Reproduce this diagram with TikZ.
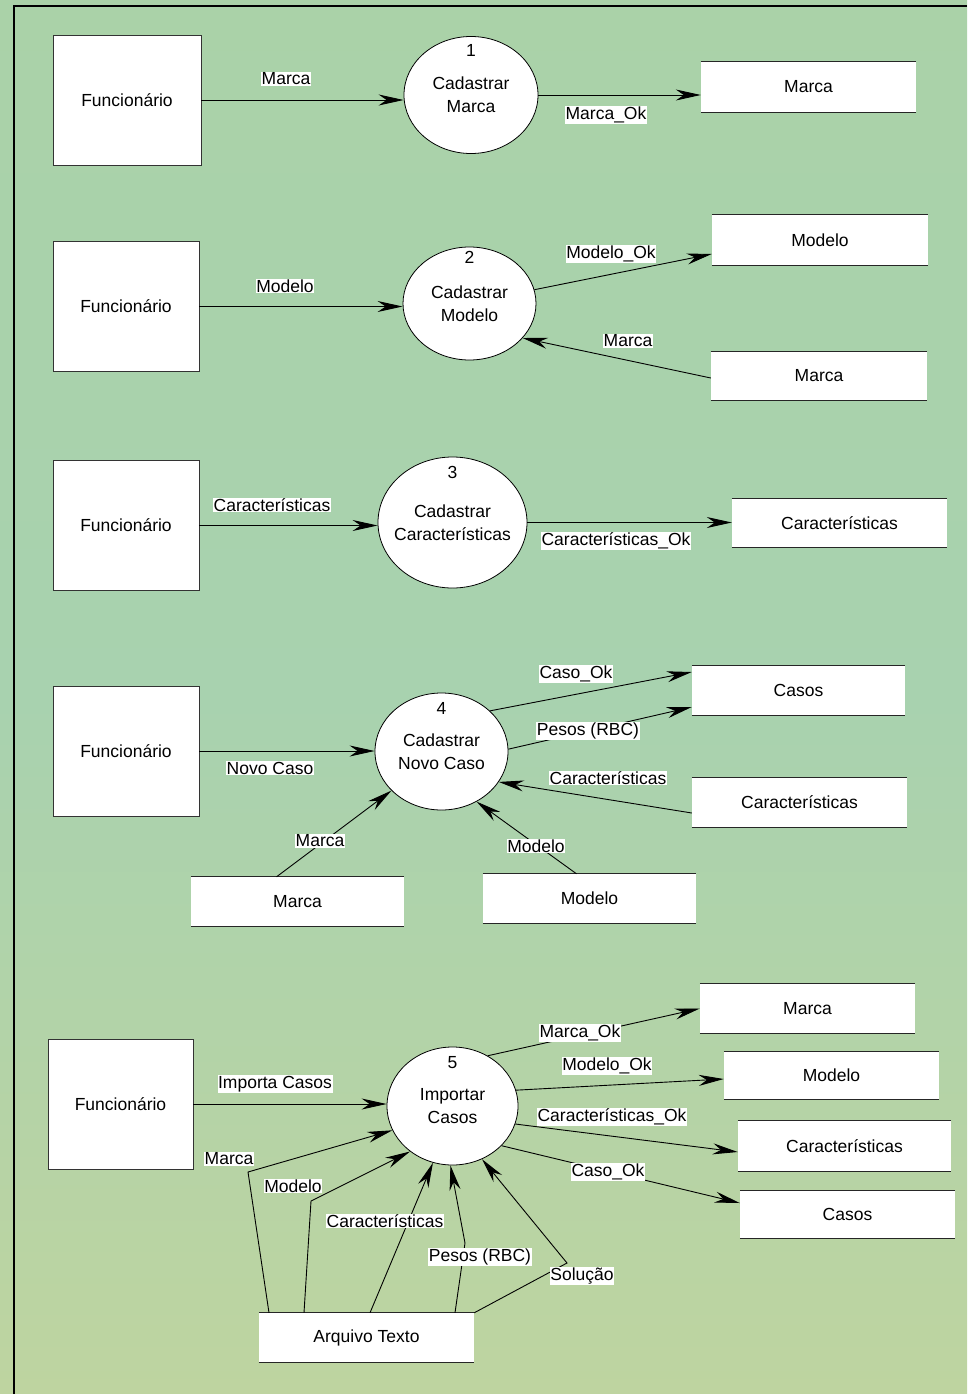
\documentclass[tikz,border=0pt]{standalone}
\usepackage{fontspec}
\setmainfont{Liberation Sans}
\usetikzlibrary{shapes.geometric,arrows.meta,calc}
\definecolor{bgtop}{RGB}{170,210,168}
\definecolor{bgmid}{RGB}{168,210,175}
\definecolor{bgbot}{RGB}{190,212,160}
\newcommand\dsline[1]{\draw[storeline] (#1.north west) -- (#1.north east) (#1.south west) -- (#1.south east);}
\begin{document}
\begin{tikzpicture}[x=1pt,y=-1pt,
 every node/.style={font=\fontsize{17.5}{23}\selectfont},
 ext/.style={draw=black!80, line width=0.8pt, fill=white, minimum width=146pt, minimum height=130pt, inner sep=0},
 proc/.style={ellipse, draw=black, line width=0.8pt, fill=white, inner sep=0},
 ptext/.style={align=center, inner sep=0},
 store/.style={fill=white, inner sep=0, minimum height=49pt},
 storeline/.style={line width=1pt, black!85},
 flow/.style={draw=black, line width=0.9pt, -{Stealth[length=25pt,width=11pt,inset=8pt]}},
 lab/.style={fill=white, inner sep=0.6pt},
]
\useasboundingbox (0,0) rectangle (967,1394);
\shade[top color=bgtop, bottom color=bgbot, middle color=bgmid] (0,0) rectangle (967,1394);
\draw[line width=2pt] (14,1394) -- (14,6) -- (967,6);

% ---------- Section 1 ----------
\node[ext, minimum width=148pt] (f1) at (127,100) {Funcionário};
\node[proc, minimum width=134pt, minimum height=117pt] (p1) at (471,95) {};
\node[ptext] at (p1) {Cadastrar\\Marca};
\node[ptext] at ($(p1.north)+(0,14)$) {1};
\node[store, minimum width=215pt, minimum height=50pt] (s1) at (808.5,87) {Marca};
\dsline{s1}
\draw[flow] (f1.east) -- (f1.east -| p1.west);
\draw[flow] (p1.east) -- (p1.east -| s1.west);
\node[lab] at (286,79) {Marca};
\node[lab] at (606,115) {Marca\_Ok};

% ---------- Section 2 ----------
\node[ext] (f2) at (126,306.5) {Funcionário};
\node[proc, minimum width=133pt, minimum height=113pt] (p2) at (469.5,303.5) {};
\node[ptext] at (p2) {Cadastrar\\Modelo};
\node[ptext] at ($(p2.north)+(0,11)$) {2};
\node[store, minimum width=216pt, minimum height=50pt] (s2) at (820,240) {Modelo};
\dsline{s2}
\node[store, minimum width=216pt, minimum height=48pt] (s3) at (819,376) {Marca};
\dsline{s3}
\draw[flow] (f2.east) -- (f2.east -| p2.west);
\draw[flow] (p2.12) -- ($(s2.west)+(0,14)$);
\draw[flow] ($(s3.west)+(0,2)$) -- (p2.-33);
\node[lab] at (285,286) {Modelo};
\node[lab] at (611,254) {Modelo\_Ok};
\node[lab] at (628,341) {Marca};

% ---------- Section 3 ----------
\node[ext] (f3) at (126,525.5) {Funcionário};
\node[proc, minimum width=149pt, minimum height=131pt] (p3) at (452.5,522.5) {};
\node[ptext] at (p3) {Cadastrar\\Características};
\node[ptext] at ($(p3.north)+(0,16)$) {3};
\node[store, minimum width=215pt, minimum height=48pt] (s4) at (839.5,523) {Características};
\dsline{s4}
\draw[flow] (f3.east) -- (f3.east -| p3.west);
\draw[flow] (p3.east) -- (p3.east -| s4.west);
\node[lab] at (272,505) {Características};
\node[lab] at (616,541) {Características\_Ok};

% ---------- Section 4 ----------
\node[ext] (f4) at (126,751) {Funcionário};
\node[proc, minimum width=133pt, minimum height=117pt] (p4) at (441.5,751.5) {};
\node[ptext] at (p4) {Cadastrar\\Novo Caso};
\node[ptext] at ($(p4.north)+(0,16)$) {4};
\node[store, minimum width=213pt] (s5) at (798.5,690.5) {Casos};
\dsline{s5}
\node[store, minimum width=215pt] (s6) at (799.5,802.5) {Características};
\dsline{s6}
\node[store, minimum width=213pt] (s7) at (297.5,901.5) {Marca};
\dsline{s7}
\node[store, minimum width=213pt] (s8) at (589.5,898.5) {Modelo};
\dsline{s8}
\draw[flow] (f4.east) -- (f4.east -| p4.west);
\draw[flow] (p4.40) -- ($(s5.west)+(0,-18.5)$);
\draw[flow] (p4.2) -- ($(s5.west)+(0,16.5)$);
\draw[flow] ($(s6.west)+(0,10.5)$) -- (p4.-28);
\draw[flow] ($(s7.north)+(-21,0)$) -- (p4.218);
\draw[flow] ($(s8.north)+(-13,0)$) -- (p4.-55);
\node[lab] at (270,768) {Novo Caso};
\node[lab] at (576,674) {Caso\_Ok};
\node[lab] at (588,731) {Pesos (RBC)};
\node[lab] at (608,778) {Características};
\node[lab] at (320,841) {Marca};
\node[lab] at (536,846) {Modelo};

% ---------- Section 5 ----------
\node[ext, minimum width=145pt] (f5) at (120.5,1104) {Funcionário};
\node[proc, minimum width=131pt, minimum height=118pt] (p5) at (452.5,1106) {};
\node[ptext] at (p5) {Importar\\Casos};
\node[ptext] at ($(p5.north)+(0,16)$) {5};
\node[store, minimum width=215pt] (t1) at (807.5,1008.5) {Marca};
\dsline{t1}
\node[store, minimum width=215pt, minimum height=47pt] (t2) at (831.5,1075.5) {Modelo};
\dsline{t2}
\node[store, minimum width=213pt, minimum height=50pt] (t3) at (844.5,1146) {Características};
\dsline{t3}
\node[store, minimum width=215pt, minimum height=47pt] (t4) at (847.5,1214.5) {Casos};
\dsline{t4}
\node[store, minimum width=215pt] (at) at (366.5,1337.5) {Arquivo Texto};
\dsline{at}
\draw[flow] (f5.east) -- (f5.east -| p5.west);
\draw[flow] (p5.55) -- (t1.west);
\draw[flow] (p5.14) -- ($(t2.west)+(0,3.5)$);
\draw[flow] (p5.-16) -- ($(t3.west)+(0,6)$);
\draw[flow] (p5.-39) -- ($(t4.west)+(0,-11.5)$);
\coordinate (bm) at (248,1172);
\coordinate (bo) at (311,1201);
\coordinate (bp) at (465,1243);
\coordinate (bs) at (567,1263);
\draw[flow] ($(at.north)+(-97.5,0)$) -- (bm) -- (p5.202);
\draw[flow] ($(at.north)+(-62.5,0)$) -- (bo) -- (p5.227);
\draw[flow] ($(at.north)+(3.5,0)$) -- (p5.251);
\draw[flow] ($(at.north)+(88.5,0)$) -- (bp) -- (p5.268);
\draw[flow] (at.north east) -- (bs) -- (p5.299);
\node[lab] at (275,1084) {Importa Casos};
\node[lab] at (580,1033) {Marca\_Ok};
\node[lab] at (607,1066) {Modelo\_Ok};
\node[lab] at (612,1117) {Características\_Ok};
\node[lab] at (608,1172) {Caso\_Ok};
\node[lab] at (229,1159) {Marca};
\node[lab] at (293,1186) {Modelo};
\node[lab] at (385,1221) {Características};
\node[lab] at (480,1257) {Pesos (RBC)};
\node[lab] at (582,1276) {Solução};
\end{tikzpicture}
\end{document}
